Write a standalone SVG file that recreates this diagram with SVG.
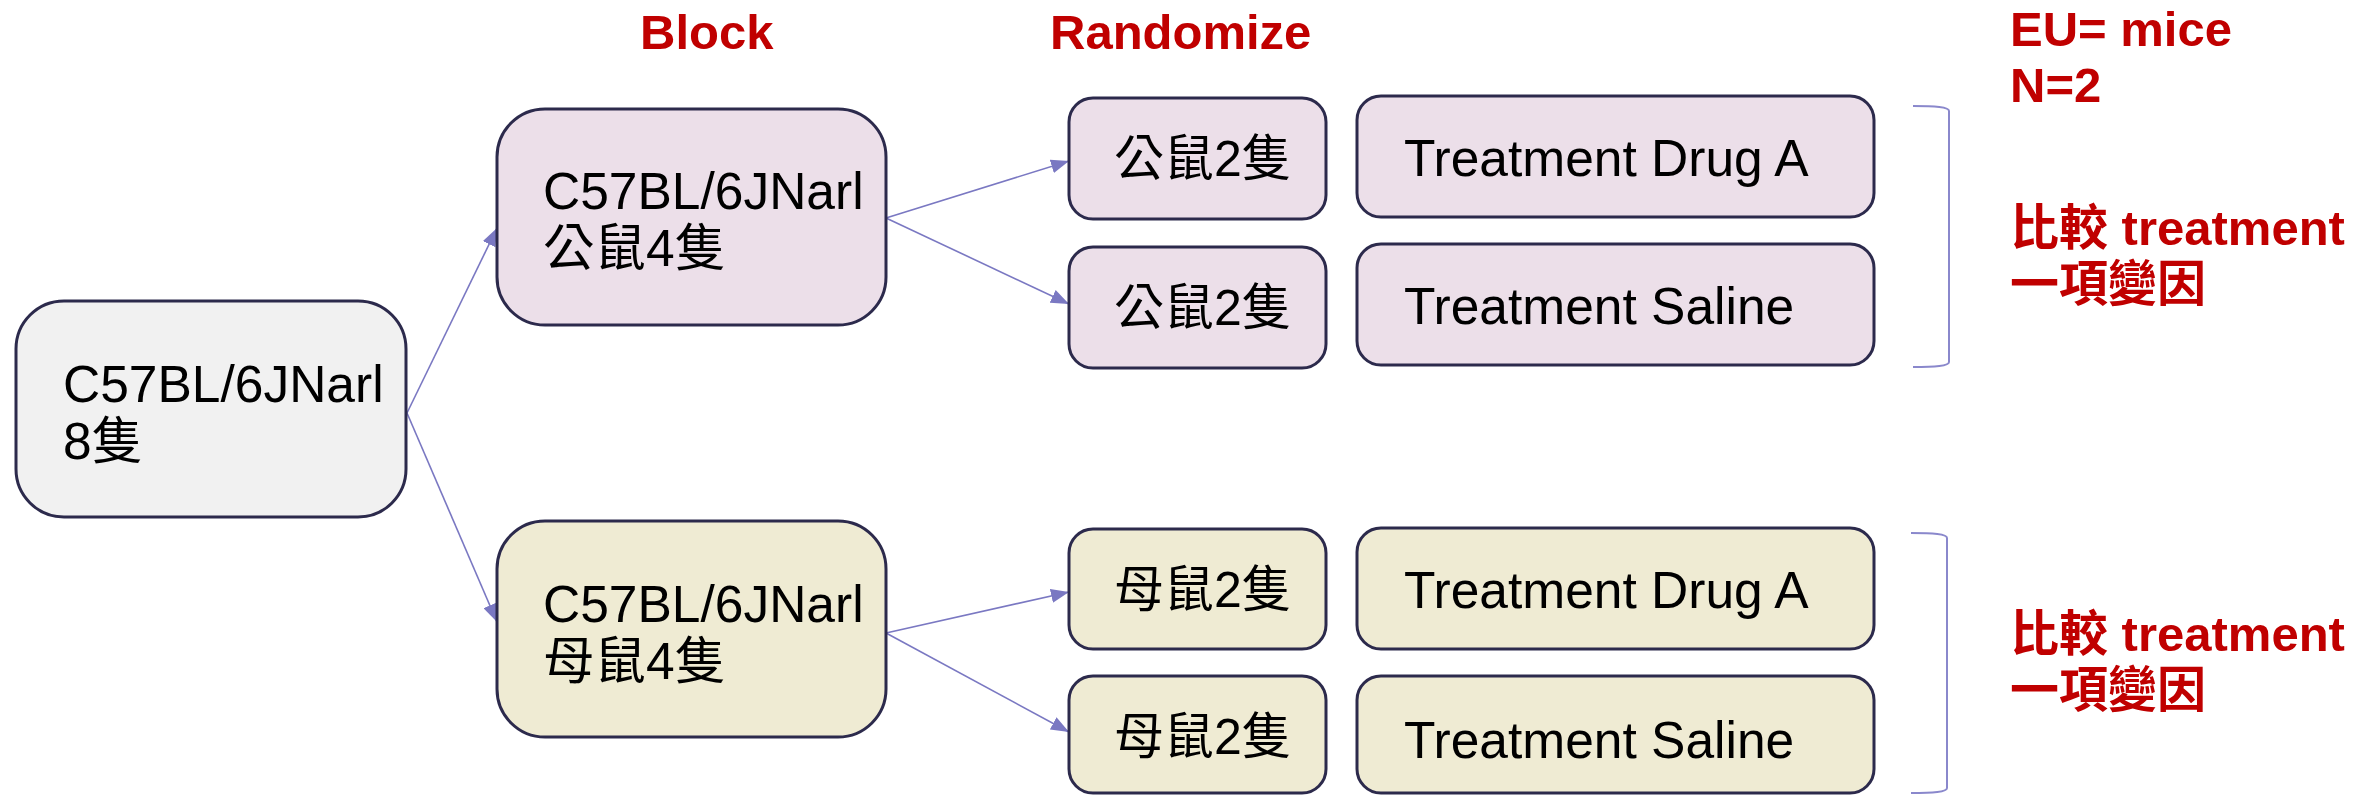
<svg xmlns="http://www.w3.org/2000/svg" width="2362" height="795" viewBox="0 0 2362 795">
  <style>
    .box { stroke: #2c2a4c; stroke-width: 3; }
    .root { fill: #f1f1f1; }
    .male { fill: #ecdfe9; }
    .female { fill: #efebd3; }
    .lbl { font-family: "Liberation Sans", "Noto Sans CJK TC", sans-serif; font-size: 51.5px; fill: #000000; }
    .cjk { font-size: 50px; }
    .note { font-family: "Liberation Sans", "Noto Sans CJK TC", sans-serif; font-size: 49px; font-weight: bold; fill: #c00000; }
    .edge { stroke: #7a78c2; stroke-width: 1.6; fill: none; }
    .brace { stroke: #8a88cc; stroke-width: 2; fill: none; }
  </style>
  <defs>
    <marker id="arrow" viewBox="0 0 18 14" refX="18" refY="7" markerWidth="18" markerHeight="14" markerUnits="userSpaceOnUse" orient="auto">
      <path d="M0,0 L18,7 L0,14 z" fill="#7a78c2"/>
    </marker>
  </defs>

  <!-- column headings -->
  <text class="note" x="640" y="49">Block</text>
  <text class="note" x="1050" y="49">Randomize</text>

  <!-- connectors -->
  <g id="connectors">
    <path class="edge" d="M407,413 L497,228" marker-end="url(#arrow)"/>
    <path class="edge" d="M407,413 L497,622" marker-end="url(#arrow)"/>
    <path class="edge" d="M886,218 L1069,161" marker-end="url(#arrow)"/>
    <path class="edge" d="M886,218 L1069,304" marker-end="url(#arrow)"/>
    <path class="edge" d="M886,633 L1069,592" marker-end="url(#arrow)"/>
    <path class="edge" d="M886,633 L1069,732" marker-end="url(#arrow)"/>
  </g>

  <!-- all mice -->
  <g id="all-mice">
    <rect class="box root" x="16" y="301" width="390" height="216" rx="48"/>
    <text class="lbl" x="63" y="402">C57BL/6JNarl</text>
    <text class="lbl" x="63" y="459">8隻</text>
  </g>

  <!-- male block -->
  <g id="male-block">
    <rect class="box male" x="497" y="109" width="389" height="216" rx="48"/>
    <text class="lbl" x="543" y="209">C57BL/6JNarl</text>
    <text class="lbl" x="543" y="266">公鼠4隻</text>
  </g>

  <!-- female block -->
  <g id="female-block">
    <rect class="box female" x="497" y="521" width="389" height="216" rx="48"/>
    <text class="lbl" x="543" y="622">C57BL/6JNarl</text>
    <text class="lbl" x="543" y="679">母鼠4隻</text>
  </g>

  <!-- randomized groups -->
  <g id="male-group-1">
    <rect class="box male" x="1069" y="98" width="257" height="121" rx="24"/>
    <text class="lbl cjk" x="1114" y="176">公鼠2隻</text>
  </g>
  <g id="male-group-2">
    <rect class="box male" x="1069" y="247" width="257" height="121" rx="24"/>
    <text class="lbl cjk" x="1114" y="325">公鼠2隻</text>
  </g>
  <g id="female-group-1">
    <rect class="box female" x="1069" y="529" width="257" height="120" rx="24"/>
    <text class="lbl cjk" x="1114" y="607">母鼠2隻</text>
  </g>
  <g id="female-group-2">
    <rect class="box female" x="1069" y="676" width="257" height="117" rx="24"/>
    <text class="lbl cjk" x="1114" y="754">母鼠2隻</text>
  </g>

  <!-- treatments -->
  <g id="male-drug">
    <rect class="box male" x="1357" y="96" width="517" height="121" rx="24"/>
    <text class="lbl" x="1404" y="176">Treatment Drug A</text>
  </g>
  <g id="male-saline">
    <rect class="box male" x="1357" y="244" width="517" height="121" rx="24"/>
    <text class="lbl" x="1404" y="324">Treatment Saline</text>
  </g>
  <g id="female-drug">
    <rect class="box female" x="1357" y="528" width="517" height="121" rx="24"/>
    <text class="lbl" x="1404" y="608">Treatment Drug A</text>
  </g>
  <g id="female-saline">
    <rect class="box female" x="1357" y="676" width="517" height="117" rx="24"/>
    <text class="lbl" x="1404" y="758">Treatment Saline</text>
  </g>

  <!-- brackets -->
  <path class="brace" d="M1913,106 C1935,106 1949,107 1949,111 V362 C1949,366 1935,367 1913,367"/>
  <path class="brace" d="M1911,533 C1933,533 1947,534 1947,538 V788 C1947,792 1933,793 1911,793"/>

  <!-- notes -->
  <text class="note" x="2010" y="46">EU= mice</text>
  <text class="note" x="2010" y="102">N=2</text>
  <text class="note" x="2010" y="245">比較 treatment</text>
  <text class="note" x="2010" y="301">一項變因</text>
  <text class="note" x="2010" y="651">比較 treatment</text>
  <text class="note" x="2010" y="707">一項變因</text>
</svg>
